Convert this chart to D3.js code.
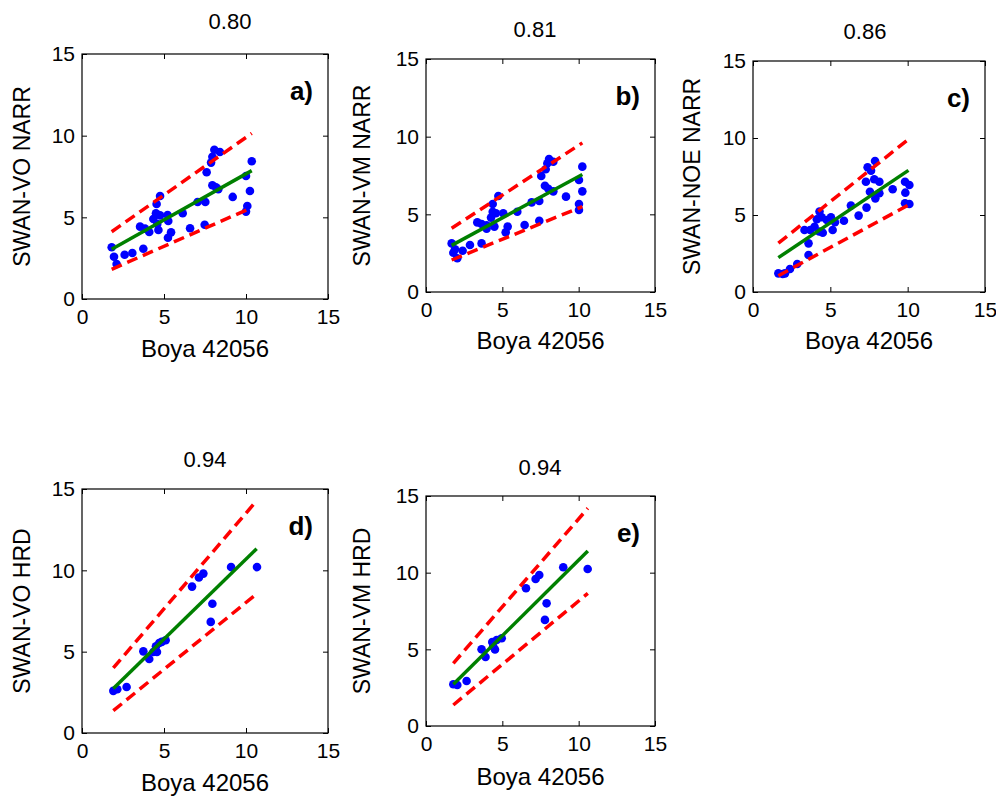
<!DOCTYPE html>
<html>
<head>
<meta charset="utf-8">
<script src="https://cdn.jsdelivr.net/npm/d3@7"></script>
<style>
  body { margin: 0; background: #fff; }
  svg text { font-family: "Liberation Sans", Arial, sans-serif; fill: #000; }
</style>
</head>
<body>
<svg id="chart" width="996" height="796"></svg>
<script>
// ticks and labels
var ticks = [0, 5, 10, 15];
var letters = ['a)', 'b)', 'c)', 'd)', 'e)'];
var titles = ['0.80', '0.81', '0.86', '0.94', '0.94'];
var yLabels = ['SWAN-VO NARR', 'SWAN-VM NARR', 'SWAN-NOE NARR', 'SWAN-VO HRD', 'SWAN-VM HRD'];
var xLabel = 'Boya 42056';

// a) SWAN-VO NARR
var aX = [1.81, 1.95, 2.11, 2.60, 3.07, 3.74, 3.54, 3.84, 4.10, 4.35, 4.51, 4.76, 4.66, 4.76, 4.55, 5.22, 5.26, 5.43, 5.24, 6.14, 6.59, 7.05, 7.52, 7.48, 7.60, 7.87, 7.95, 8.07, 8.41, 7.95, 8.17, 8.31, 9.19, 10.0, 10.35, 10.24, 10.08, 10.0, 4.59];
var aY = [3.17, 2.59, 2.14, 2.71, 2.82, 3.08, 4.43, 4.31, 4.10, 4.90, 5.25, 5.12, 4.22, 6.31, 5.82, 5.14, 4.78, 4.08, 3.75, 5.25, 4.33, 5.94, 5.94, 4.55, 7.76, 8.35, 8.71, 9.14, 9.00, 6.96, 6.84, 6.72, 6.25, 7.53, 8.43, 6.61, 5.69, 5.35, 4.59];
var aLineX = [1.81, 10.35];
var aFit = [3.04, 7.86];
var aUp = [4.12, 10.14];
var aLo = [1.82, 5.59];

// b) SWAN-VM NARR
var bX = [1.68, 1.90, 1.79, 2.05, 2.40, 2.88, 3.64, 3.36, 3.64, 3.97, 4.26, 4.37, 4.58, 4.48, 4.74, 4.37, 5.06, 5.35, 5.22, 5.98, 6.46, 6.92, 7.42, 7.42, 7.55, 7.84, 7.95, 8.06, 8.34, 7.79, 8.01, 8.34, 9.17, 10.02, 10.24, 10.24, 10.02, 10.02, 3.97];
var bY = [3.13, 2.75, 2.53, 2.17, 2.66, 3.03, 3.13, 4.48, 4.38, 4.08, 4.79, 5.17, 5.07, 4.21, 6.18, 5.67, 5.07, 4.21, 3.84, 5.17, 4.31, 5.77, 5.86, 4.59, 7.47, 7.90, 8.29, 8.56, 8.39, 6.84, 6.65, 6.48, 6.14, 7.21, 8.07, 6.48, 5.67, 5.28, 4.30];
var bLineX = [1.68, 10.24];
var bFit = [3.0, 7.56];
var bUp = [4.1, 9.6];
var bLo = [2.06, 5.5];

// c) SWAN-NOE NARR
var cX = [1.64, 1.92, 2.07, 2.39, 2.86, 3.59, 3.59, 3.33, 3.70, 3.98, 4.13, 4.30, 4.44, 4.51, 4.28, 4.77, 5.04, 5.15, 5.30, 5.88, 6.33, 6.83, 7.34, 7.30, 7.41, 7.63, 7.89, 7.56, 7.84, 8.17, 7.91, 8.17, 9.03, 9.83, 10.11, 9.85, 9.83, 10.11];
var cY = [1.21, 1.17, 1.21, 1.49, 1.82, 2.40, 3.16, 4.03, 4.03, 4.24, 4.72, 5.22, 4.85, 3.85, 3.93, 4.68, 4.85, 4.03, 4.53, 4.63, 5.61, 4.96, 5.48, 7.16, 8.10, 7.88, 8.51, 6.51, 7.32, 7.16, 6.08, 6.41, 6.67, 7.16, 6.95, 6.45, 5.76, 5.71];
var cLineX = [1.64, 10.05];
var cFit = [2.23, 7.9];
var cUp = [3.17, 9.92];
var cLo = [1.06, 5.65];

// d) SWAN-VO HRD
var dX = [1.91, 2.15, 2.72, 3.74, 4.10, 4.35, 4.51, 4.71, 4.57, 4.86, 5.10, 6.71, 7.13, 7.40, 7.95, 7.85, 9.09, 10.67];
var dY = [2.59, 2.69, 2.83, 5.02, 4.55, 4.98, 5.33, 5.53, 4.98, 5.60, 5.70, 9.00, 9.56, 9.80, 7.95, 6.83, 10.20, 10.20];
var dLineX = [1.91, 10.65];
var dFit = [2.73, 11.33];
var dUp = [4.0, 14.28];
var dLo = [1.37, 8.56];

// e) SWAN-VM HRD
var eX = [1.79, 2.05, 2.66, 3.64, 3.90, 4.34, 4.52, 4.63, 4.96, 4.40, 6.55, 7.18, 7.42, 7.90, 7.79, 8.99, 10.59];
var eY = [2.72, 2.67, 2.93, 5.00, 4.50, 5.48, 4.99, 5.61, 5.72, 5.20, 8.98, 9.59, 9.85, 8.00, 6.92, 10.35, 10.24];
var eLineX = [1.79, 10.6];
var eFit = [2.72, 11.41];
var eUp = [4.09, 14.2];
var eLo = [1.37, 8.65];

var series = [
  {x: aX, y: aY, lx: aLineX, fit: aFit, up: aUp, lo: aLo},
  {x: bX, y: bY, lx: bLineX, fit: bFit, up: bUp, lo: bLo},
  {x: cX, y: cY, lx: cLineX, fit: cFit, up: cUp, lo: cLo},
  {x: dX, y: dY, lx: dLineX, fit: dFit, up: dUp, lo: dLo},
  {x: eX, y: eY, lx: eLineX, fit: eFit, up: eUp, lo: eLo}
];

// layout of each axes box (pixels)
var boxes = [
  {l: 82,  t: 54,  r: 328, b: 299, tx: 230, ty: 29,  yl: 30,  xl: 357},
  {l: 426, t: 59,  r: 655, b: 292, tx: 535, ty: 37,  yl: 370, xl: 349},
  {l: 753, t: 61,  r: 985, b: 292, tx: 865, ty: 39,  yl: 700, xl: 349},
  {l: 82,  t: 489, r: 328, b: 733, tx: 205, ty: 467, yl: 30,  xl: 791},
  {l: 426, t: 496, r: 655, b: 726, tx: 540, ty: 475, yl: 370, xl: 785}
];

var svg = d3.select('#chart');

boxes.forEach(function(bx, i){
  var s = series[i];
  var x = d3.scaleLinear().domain([0, 15]).range([bx.l, bx.r]);
  var y = d3.scaleLinear().domain([0, 15]).range([bx.b, bx.t]);
  var g = svg.append('g');

  // axes, ticks inward on all sides
  var ax = g.append('g').attr('transform', 'translate(0,' + bx.b + ')')
    .call(d3.axisBottom(x).tickValues(ticks).tickSize(-5).tickPadding(10));
  var ay = g.append('g').attr('transform', 'translate(' + bx.l + ',0)')
    .call(d3.axisLeft(y).tickValues(ticks).tickSize(-5).tickPadding(7));
  var at = g.append('g').attr('transform', 'translate(0,' + bx.t + ')')
    .call(d3.axisTop(x).tickValues(ticks).tickSize(-5).tickFormat(''));
  var ar = g.append('g').attr('transform', 'translate(' + bx.r + ',0)')
    .call(d3.axisRight(y).tickValues(ticks).tickSize(-5).tickFormat(''));
  [ax, ay, at, ar].forEach(function(a){
    a.select('.domain').remove();
    a.selectAll('line').attr('stroke', '#000').attr('stroke-width', 1);
    a.selectAll('text').style('font-size', '21px').style('font-family', '"Liberation Sans", Arial, sans-serif');
  });

  g.append('rect')
    .attr('x', bx.l).attr('y', bx.t)
    .attr('width', bx.r - bx.l).attr('height', bx.b - bx.t)
    .attr('fill', 'none').attr('stroke', '#000').attr('stroke-width', 1.2);

  // points
  g.selectAll('circle').data(s.x).enter().append('circle')
    .attr('cx', function(d){ return x(d); })
    .attr('cy', function(d, j){ return y(s.y[j]); })
    .attr('r', 4.3)
    .attr('fill', '#0000ff');

  var line = d3.line()
    .x(function(d, j){ return x(s.lx[j]); })
    .y(function(d){ return y(d); });

  g.append('path').datum(s.up).attr('d', line)
    .attr('fill', 'none').attr('stroke', '#ff0000').attr('stroke-width', 3.5).attr('stroke-dasharray', '11,6');
  g.append('path').datum(s.lo).attr('d', line)
    .attr('fill', 'none').attr('stroke', '#ff0000').attr('stroke-width', 3.5).attr('stroke-dasharray', '11,6');
  g.append('path').datum(s.fit).attr('d', line)
    .attr('fill', 'none').attr('stroke', '#008000').attr('stroke-width', 3.5);

  // panel letter
  g.append('text')
    .attr('x', bx.r - 15).attr('y', bx.t + 46)
    .attr('text-anchor', 'end')
    .style('font-size', '26px').style('font-weight', 'bold')
    .text(letters[i]);

  // title
  g.append('text')
    .attr('x', bx.tx).attr('y', bx.ty)
    .attr('text-anchor', 'middle')
    .style('font-size', '22px')
    .text(titles[i]);

  // axis labels
  g.append('text')
    .attr('x', (bx.l + bx.r) / 2).attr('y', bx.xl)
    .attr('text-anchor', 'middle')
    .style('font-size', '24px')
    .text(xLabel);

  g.append('text')
    .attr('transform', 'translate(' + bx.yl + ',' + ((bx.t + bx.b) / 2) + ') rotate(-90)')
    .attr('text-anchor', 'middle')
    .style('font-size', '23px')
    .text(yLabels[i]);
});
</script>
</body>
</html>
